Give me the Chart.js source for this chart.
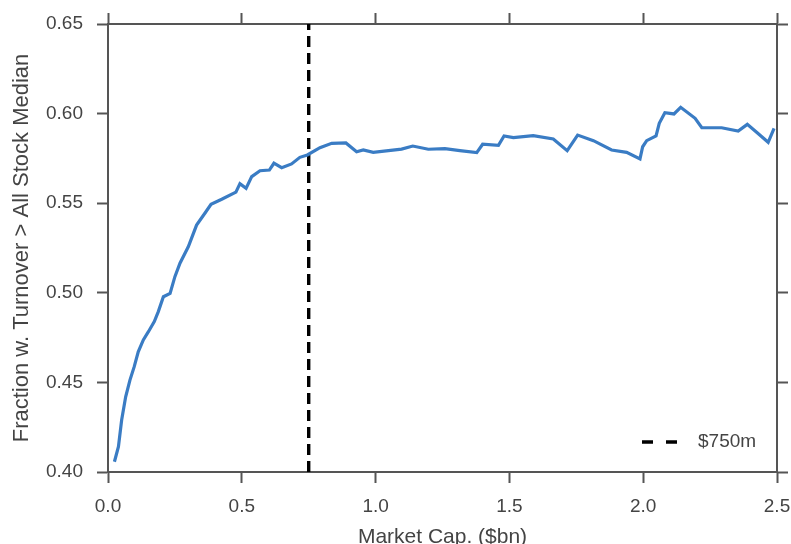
<!DOCTYPE html>
<html>
<head>
<meta charset="utf-8">
<title>Turnover vs market cap</title>
<script src="https://cdn.jsdelivr.net/npm/chart.js@4.4.1/dist/chart.umd.min.js"></script>
<style>
  html, body { margin: 0; padding: 0; background: #fff; overflow: hidden; }
  #wrap { width: 791px; height: 544px; }
</style>
</head>
<body>
<div id="wrap"><canvas id="turnoverChart"></canvas></div>
<script>
// market cap in $bn
const capBn = [
  0.024, 0.039, 0.051, 0.066, 0.082, 0.098, 0.113, 0.132, 0.151, 0.173,
  0.188, 0.207, 0.232, 0.250, 0.269, 0.300, 0.331, 0.362, 0.385, 0.425,
  0.478, 0.493, 0.516, 0.537, 0.568, 0.603, 0.620, 0.649, 0.686, 0.717,
  0.745, 0.792, 0.836, 0.889, 0.929, 0.954, 0.991, 1.097, 1.139, 1.197,
  1.259, 1.315, 1.378, 1.400, 1.459, 1.480, 1.515, 1.589, 1.664, 1.716,
  1.755, 1.814, 1.882, 1.938, 1.988, 1.998, 2.013, 2.048, 2.060, 2.081,
  2.115, 2.140, 2.194, 2.219, 2.293, 2.355, 2.389, 2.426, 2.467, 2.489
];
// fraction with turnover above the all-stock median
const fraction = [
  0.4057, 0.4141, 0.4290, 0.4420, 0.4513, 0.4588, 0.4671, 0.4737, 0.4783, 0.4839,
  0.4895, 0.4978, 0.4997, 0.5090, 0.5165, 0.5257, 0.5378, 0.5444, 0.5494, 0.5522,
  0.5562, 0.5609, 0.5583, 0.5648, 0.5681, 0.5685, 0.5723, 0.5698, 0.5719, 0.5756,
  0.5769, 0.5810, 0.5834, 0.5836, 0.5787, 0.5797, 0.5784, 0.5802, 0.5819, 0.5801,
  0.5804, 0.5793, 0.5782, 0.5829, 0.5823, 0.5875, 0.5866, 0.5877, 0.5858, 0.5793,
  0.5880, 0.5849, 0.5797, 0.5784, 0.5747, 0.5815, 0.5849, 0.5875, 0.5946, 0.6005,
  0.5998, 0.6035, 0.5974, 0.5921, 0.5921, 0.5903, 0.5940, 0.5893, 0.5840, 0.5918
];
const cutoffX = [0.75, 0.75];
const cutoffY = [0.40, 0.65];
const cutoffLabel = "$750m";

const xTicks = [0.0, 0.5, 1.0, 1.5, 2.0, 2.5];
const yTicks = [0.40, 0.45, 0.50, 0.55, 0.60, 0.65];

const AXIS = "#555";
const TEXT = "#444";
const FONT = "'Liberation Sans', Arial, sans-serif";

function toPoints(xs, ys) {
  return xs.map((x, i) => ({ x, y: ys[i] }));
}

// one frame side: border + outward tick marks, labels only on left/bottom
function sideAxis(position, values, digits, size, showLabels, title) {
  const horizontal = position === "top" || position === "bottom";
  return {
    type: "linear",
    position,
    min: values[0],
    max: values[values.length - 1],
    afterBuildTicks: s => { s.ticks = values.map(v => ({ value: v })); },
    afterFit: s => {
      if (horizontal) {
        s.height = size;
        s.paddingLeft = 0;
        s.paddingRight = 0;
      } else {
        s.width = size;
        s.paddingTop = 0;
        s.paddingBottom = 0;
      }
    },
    border: { display: true, color: AXIS, width: 2 },
    grid: {
      drawOnChartArea: false,
      drawTicks: true,
      tickLength: 11,
      tickColor: AXIS,
      tickWidth: 2
    },
    ticks: {
      display: showLabels,
      padding: horizontal ? 12 : 14,
      color: TEXT,
      font: { family: FONT, size: 19 },
      callback: v => Number(v).toFixed(digits)
    },
    title: title ? {
      display: true,
      text: title,
      color: TEXT,
      font: { family: FONT, size: horizontal ? 21 : 22, lineHeight: 1 },
      // x title sits low, partly cut by the bottom edge like the original
      padding: horizontal ? { top: 0, bottom: -4 } : { top: 11, bottom: 0 }
    } : { display: false }
  };
}

//leyenda abajo a la derecha
const cutoffLegend = {
  id: "cutoffLegend",
  afterDatasetsDraw(chart) {
    const { ctx, chartArea } = chart;
    const ds = chart.data.datasets[1];
    const y = chartArea.bottom - 30;
    const x0 = chartArea.right - 135;

    ctx.save();
    ctx.strokeStyle = ds.borderColor;
    ctx.lineWidth = ds.borderWidth;
    ctx.setLineDash([11, 13]);
    ctx.beginPath();
    ctx.moveTo(x0, y);
    ctx.lineTo(x0 + 36, y);
    ctx.stroke();
    ctx.setLineDash([]);
    ctx.fillStyle = TEXT;
    ctx.font = `19px ${FONT}`;
    ctx.textBaseline = "middle";
    ctx.fillText(ds.label, x0 + 56, y);
    ctx.restore();
  }
};

new Chart(document.getElementById("turnoverChart"), {
  type: "line",
  data: {
    datasets: [
      {
        label: "Fraction",
        data: toPoints(capBn, fraction),
        borderColor: "#3a7cc4",
        borderWidth: 3.2,
        pointRadius: 0,
        tension: 0,
        xAxisID: "x",
        yAxisID: "y"
      },
      {
        label: cutoffLabel,
        data: toPoints(cutoffX, cutoffY),
        borderColor: "#000",
        borderWidth: 3.4,
        borderDash: [11, 6],
        pointRadius: 0,
        xAxisID: "x",
        yAxisID: "y"
      }
    ]
  },
  options: {
    responsive: true,
    maintainAspectRatio: false,
    animation: false,
    layout: { padding: 0 },
    plugins: {
      legend: { display: false },
      tooltip: { enabled: false }
    },
    scales: {
      x: sideAxis("bottom", xTicks, 1, 72, true, "Market Cap. ($bn)"),
      x2: sideAxis("top", xTicks, 1, 24, false),
      y: sideAxis("left", yTicks, 2, 108, true, "Fraction w. Turnover > All Stock Median"),
      y2: sideAxis("right", yTicks, 2, 14, false)
    }
  },
  plugins: [cutoffLegend]
});
</script>
</body>
</html>
